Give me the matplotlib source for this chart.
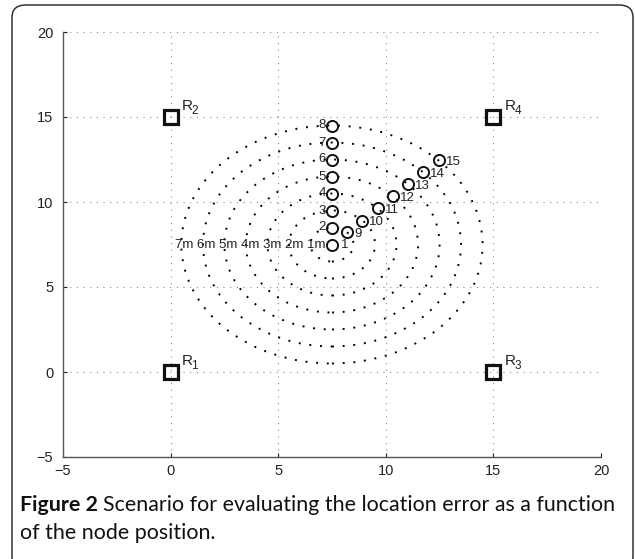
import matplotlib
matplotlib.use('Agg')
from matplotlib import pyplot as plt
from matplotlib.patches import Circle, FancyBboxPatch

# receivers
rx_x = [0, 0, 15, 15]
rx_y = [0, 15, 0, 15]
rx_names = ['1', '2', '3', '4']

# nodes 1-8 (vertical column) and 9-15 (diagonal)
col_x = [7.5, 7.5, 7.5, 7.5, 7.5, 7.5, 7.5, 7.5]
col_y = [7.5, 8.5, 9.5, 10.5, 11.5, 12.5, 13.5, 14.5]
col_ids = ['1', '2', '3', '4', '5', '6', '7', '8']
diag_x = [8.21, 8.91, 9.62, 10.33, 11.04, 11.74, 12.45]
diag_y = [8.21, 8.91, 9.62, 10.33, 11.04, 11.74, 12.45]
diag_ids = ['9', '10', '11', '12', '13', '14', '15']

# distance rings
center = (7.5, 7.5)
radii = [1, 2, 3, 4, 5, 6, 7]
ring_text = '7m 6m 5m 4m 3m 2m 1m'

ticks = [-5, 0, 5, 10, 15, 20]

caption_bold = 'Figure 2'
caption_line1 = 'Scenario for evaluating the location error as a function'
caption_line2 = 'of the node position.'


def main():
  plt.rcParams['font.family'] = ['Liberation Sans', 'DejaVu Sans']
  fig = plt.figure(figsize=(6.35, 5.59), dpi=100)

  # rounded frame around figure + caption
  frame = FancyBboxPatch((12 / 635, -10 / 559), 621 / 635, 564 / 559,
                         boxstyle='round,pad=0,rounding_size=0.022',
                         transform=fig.transFigure, fill=False,
                         edgecolor='#333333', linewidth=1.1, clip_on=False)
  fig.patches.append(frame)

  ax = fig.add_axes([63 / 635, 102 / 559, 538 / 635, 425 / 559])

  for r in radii:
    ax.add_patch(Circle(center, r, fill=False, edgecolor='black',
                        linewidth=1.4, linestyle=(0, (1, 4.5))))

  ax.plot(rx_x, rx_y, 's', markersize=10.5, markerfacecolor='none',
          markeredgecolor='#111111', markeredgewidth=2.3, zorder=5)
  for x, y, n in zip(rx_x, rx_y, rx_names):
    # R with a lowered index, placed up-right of the square
    ax.annotate('R', (x, y), xytext=(8, 5), textcoords='offset points',
                ha='left', va='baseline', fontsize=11, color='#222222')
    ax.annotate(n, (x, y), xytext=(15, 0), textcoords='offset points',
                ha='left', va='bottom', fontsize=8.5, color='#222222')

  ax.plot(col_x, col_y, 'o', markersize=8, markerfacecolor='none',
          markeredgecolor='#111111', markeredgewidth=1.4, zorder=5)
  ax.plot(diag_x, diag_y, 'o', markersize=8, markerfacecolor='none',
          markeredgecolor='#111111', markeredgewidth=1.4, zorder=5)

  lbl = dict(fontsize=9.5, color='#222222', va='center')
  for x, y, n in zip(col_x[1:], col_y[1:], col_ids[1:]):
    ax.annotate(n, (x, y), xytext=(-4.5, 0), textcoords='offset points',
                ha='right', **lbl)
  ax.annotate(col_ids[0], (col_x[0], col_y[0]), xytext=(6.5, 0),
              textcoords='offset points', ha='left', **lbl)
  ax.annotate(ring_text, (col_x[0], col_y[0]), xytext=(-5, 0),
              textcoords='offset points', ha='right', **lbl)
  for x, y, n in zip(diag_x, diag_y, diag_ids):
    ax.annotate(n, (x, y), xytext=(5, -1), textcoords='offset points',
                ha='left', **lbl)

  ax.set_xlim(-5, 20)
  ax.set_ylim(-5, 20)
  ax.set_xticks(ticks)
  ax.set_yticks(ticks)
  ax.set_xticklabels(['\u22125'] + [str(t) for t in ticks[1:]])
  ax.set_yticklabels(['\u22125'] + [str(t) for t in ticks[1:]])
  ax.tick_params(direction='in', length=3, width=0.8, labelsize=10.5,
                 colors='#222222')
  ax.tick_params(axis='x', pad=5)
  ax.tick_params(axis='y', pad=7)
  ax.grid(True, color='#8a8a8a', linestyle=(0, (1, 5)), linewidth=0.8)
  ax.spines['top'].set_visible(False)
  ax.spines['right'].set_visible(False)
  for s in ('left', 'bottom'):
    ax.spines[s].set_color('#555555')
    ax.spines[s].set_linewidth(1.0)
  ax.set_axisbelow(True)

  # caption
  cap_font = ['Lato', 'DejaVu Sans']
  y1 = 1 - 505 / 559
  y2 = 1 - 533 / 559
  t = fig.text(20 / 635, y1, caption_bold, fontsize=15.4, weight='bold',
               family=cap_font, ha='left', va='center', color='#111111')
  fig.canvas.draw()
  bb = t.get_window_extent(renderer=fig.canvas.get_renderer())
  fig.text((bb.x1 + 5) / 635, y1, caption_line1, fontsize=15.4,
           family=cap_font, ha='left', va='center', color='#111111')
  fig.text(20 / 635, y2, caption_line2, fontsize=15.4,
           family=cap_font, ha='left', va='center', color='#111111')

  fig.savefig('out.png', dpi=100)


if __name__ == '__main__':
  main()
